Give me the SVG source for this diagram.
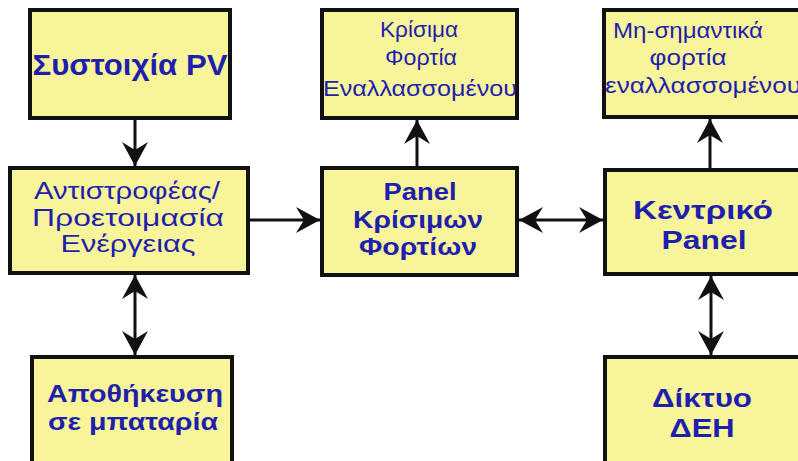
<svg xmlns="http://www.w3.org/2000/svg" width="798" height="461" viewBox="0 0 798 461">
<style>
.box{fill:#f8f49a;stroke:#111;stroke-width:4}
.t{font-family:"Liberation Sans",Arial,sans-serif;fill:#1f1fae;text-anchor:middle}
.b{font-weight:bold}
.c{stroke:#111;stroke-width:3;fill:none}
</style>
<defs>
<marker id="ah" viewBox="0 0 24 26" refX="24" refY="13" markerWidth="24" markerHeight="26" markerUnits="userSpaceOnUse" orient="auto-start-reverse">
<path d="M0,0 L24,13 L0,26 L8,13 z" fill="#111"/>
</marker>
</defs>
<rect width="798" height="461" fill="#fff"/>
<g id="connectors">
<line class="c" x1="135" y1="118" x2="135" y2="166" marker-end="url(#ah)"/>
<line class="c" x1="135" y1="275" x2="135" y2="355" marker-start="url(#ah)" marker-end="url(#ah)"/>
<line class="c" x1="250" y1="220" x2="320" y2="220" marker-end="url(#ah)"/>
<line class="c" x1="417" y1="166" x2="417" y2="120" marker-end="url(#ah)"/>
<line class="c" x1="519" y1="220" x2="603" y2="220" marker-start="url(#ah)" marker-end="url(#ah)"/>
<line class="c" x1="710" y1="168" x2="710" y2="119" marker-end="url(#ah)"/>
<line class="c" x1="711" y1="276" x2="711" y2="355" marker-start="url(#ah)" marker-end="url(#ah)"/>
</g>
<g id="pv">
<rect class="box" x="30" y="10" width="200" height="108"/>
<text class="t b" x="130" y="75" font-size="29" textLength="195" lengthAdjust="spacingAndGlyphs">Συστοιχία PV</text>
</g>
<g id="inverter">
<rect class="box" x="10" y="168" width="238" height="105"/>
<text class="t" x="127" y="199" font-size="23" textLength="186" lengthAdjust="spacingAndGlyphs">Αντιστροφέας/</text>
<text class="t" x="128" y="226" font-size="23" textLength="192" lengthAdjust="spacingAndGlyphs">Προετοιμασία</text>
<text class="t" x="128" y="252" font-size="23" textLength="135" lengthAdjust="spacingAndGlyphs">Ενέργειας</text>
</g>
<g id="battery">
<rect class="box" x="32" y="357" width="200" height="130"/>
<text class="t b" x="135" y="402" font-size="24" textLength="176" lengthAdjust="spacingAndGlyphs">Αποθήκευση</text>
<text class="t b" x="133" y="430" font-size="24" textLength="170" lengthAdjust="spacingAndGlyphs">σε μπαταρία</text>
</g>
<g id="critical-loads">
<rect class="box" x="322" y="10" width="195" height="108"/>
<text class="t" x="419" y="37" font-size="22" textLength="78" lengthAdjust="spacingAndGlyphs">Κρίσιμα</text>
<text class="t" x="421" y="65" font-size="22" textLength="72" lengthAdjust="spacingAndGlyphs">Φορτία</text>
<text class="t" x="420" y="96" font-size="22" textLength="194" lengthAdjust="spacingAndGlyphs">Εναλλασσομένου</text>
</g>
<g id="critical-panel">
<rect class="box" x="322" y="168" width="195" height="107"/>
<text class="t b" x="420" y="200" font-size="24" textLength="73" lengthAdjust="spacingAndGlyphs">Panel</text>
<text class="t b" x="418" y="228" font-size="24" textLength="130" lengthAdjust="spacingAndGlyphs">Κρίσιμων</text>
<text class="t b" x="418" y="255" font-size="24" textLength="118" lengthAdjust="spacingAndGlyphs">Φορτίων</text>
</g>
<g id="noncritical-loads">
<rect class="box" x="604" y="10" width="212" height="107"/>
<text class="t" x="688" y="38" font-size="22" textLength="150" lengthAdjust="spacingAndGlyphs">Μη-σημαντικά</text>
<text class="t" x="688" y="65" font-size="22" textLength="77" lengthAdjust="spacingAndGlyphs">φορτία</text>
<text class="t" x="703" y="93" font-size="22" textLength="196" lengthAdjust="spacingAndGlyphs">εναλλασσομένου</text>
</g>
<g id="central-panel">
<rect class="box" x="605" y="170" width="212" height="104"/>
<text class="t b" x="703" y="219" font-size="26" textLength="140" lengthAdjust="spacingAndGlyphs">Κεντρικό</text>
<text class="t b" x="704" y="249" font-size="26" textLength="85" lengthAdjust="spacingAndGlyphs">Panel</text>
</g>
<g id="grid">
<rect class="box" x="605" y="357" width="212" height="130"/>
<text class="t b" x="702" y="407" font-size="26" textLength="100" lengthAdjust="spacingAndGlyphs">Δίκτυο</text>
<text class="t b" x="702" y="437" font-size="26" textLength="65" lengthAdjust="spacingAndGlyphs">ΔΕΗ</text>
</g>
</svg>
